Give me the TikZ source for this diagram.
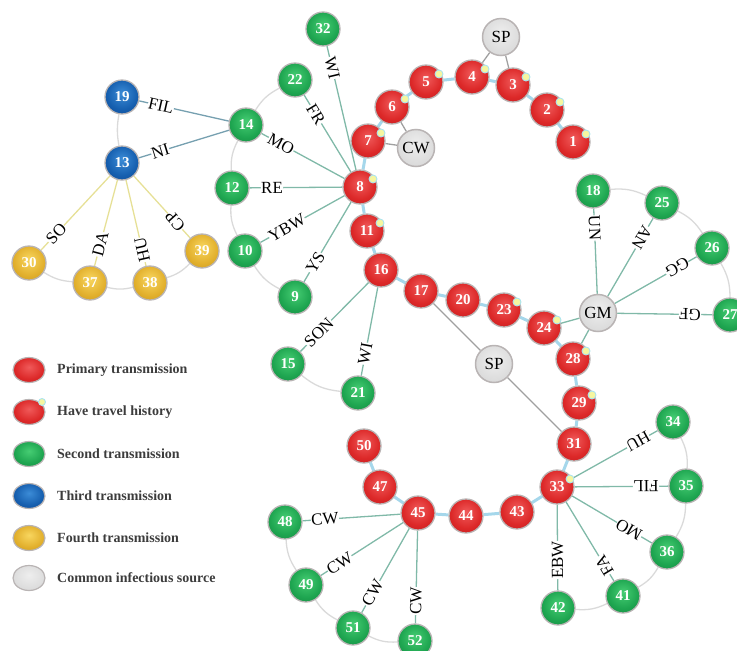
\documentclass[tikz,border=0pt]{standalone}
\usepackage{fontspec}
\setmainfont{Liberation Serif}
\usetikzlibrary{calc,backgrounds,shapes.geometric}

\definecolor{Rl}{RGB}{240,90,90}\definecolor{Rm}{RGB}{220,40,40}\definecolor{Rd}{RGB}{178,24,30}
\definecolor{Gl}{RGB}{70,205,115}\definecolor{Gm}{RGB}{30,165,80}\definecolor{Gd}{RGB}{18,122,58}
\definecolor{Bl}{RGB}{60,140,215}\definecolor{Bm}{RGB}{22,95,175}\definecolor{Bd}{RGB}{14,62,132}
\definecolor{Yl}{RGB}{248,214,95}\definecolor{Ym}{RGB}{226,176,45}\definecolor{Yd}{RGB}{186,140,25}
\definecolor{Sl}{RGB}{238,238,238}\definecolor{Sm}{RGB}{220,220,220}\definecolor{Sd}{RGB}{202,202,202}
\definecolor{ringc}{RGB}{185,180,180}
\definecolor{trvc}{RGB}{246,246,160}
\definecolor{trvring}{RGB}{170,228,240}
\definecolor{chainc}{RGB}{165,215,235}
\definecolor{tealc}{RGB}{128,185,168}
\definecolor{bluec}{RGB}{118,160,176}
\definecolor{yelc}{RGB}{230,224,150}
\definecolor{arcc}{RGB}{218,218,218}
\definecolor{srcc}{RGB}{160,160,160}
\definecolor{lgc}{RGB}{60,60,60}

\pgfdeclareradialshading{ballR}{\pgfpoint{0bp}{6bp}}{color(0bp)=(Rl); color(22bp)=(Rm); color(44bp)=(Rd); color(60bp)=(Rd)}
\pgfdeclareradialshading{ballG}{\pgfpoint{0bp}{6bp}}{color(0bp)=(Gl); color(22bp)=(Gm); color(44bp)=(Gd); color(60bp)=(Gd)}
\pgfdeclareradialshading{ballB}{\pgfpoint{0bp}{6bp}}{color(0bp)=(Bl); color(22bp)=(Bm); color(44bp)=(Bd); color(60bp)=(Bd)}
\pgfdeclareradialshading{ballY}{\pgfpoint{0bp}{6bp}}{color(0bp)=(Yl); color(22bp)=(Ym); color(44bp)=(Yd); color(60bp)=(Yd)}
\pgfdeclareradialshading{ballS}{\pgfpoint{0bp}{6bp}}{color(0bp)=(Sl); color(25bp)=(Sm); color(46bp)=(Sd); color(60bp)=(Sd)}

\tikzset{
  nd/.style={circle, minimum size=34pt, inner sep=0pt, draw=ringc, line width=1.3pt,
    text=white, font=\fontsize{15}{15}\selectfont\bfseries},
  rn/.style={nd, shading=ballR},
  gn/.style={nd, shading=ballG},
  bn/.style={nd, shading=ballB},
  yn/.style={nd, shading=ballY},
  sn/.style={circle, minimum size=37pt, inner sep=0pt, draw=ringc, line width=1.5pt,
    shading=ballS, text=black, font=\fontsize{17}{17}\selectfont},
  trv/.style={circle, minimum size=8pt, inner sep=0pt, fill=trvc, draw=trvring, line width=0.9pt},
  chain/.style={draw=chainc, line width=3pt},
  ted/.style={draw=tealc, line width=1.3pt},
  bed/.style={draw=bluec, line width=1.3pt},
  yed/.style={draw=yelc, line width=1.3pt},
  arced/.style={draw=arcc, line width=1.3pt},
  sed/.style={draw=srcc, line width=1.3pt},
  elabel/.style={font=\fontsize{17}{17}\selectfont, text=black, inner sep=0.3pt, fill=white},
  lgball/.style={ellipse, minimum width=32pt, minimum height=25pt, inner sep=0pt, draw=ringc, line width=1.2pt},
  lgtext/.style={anchor=west, inner sep=0pt, font=\fontsize{14}{14}\selectfont\bfseries, text=lgc},
}

% label on edge: [distance]{outer}{hub}{text}
\newcommand{\elab}[4][40]{%
  \path let \p1=($(#3)-(#2)$), \n1={atan2(\y1,\x1)} in
    node[elabel, rotate=\n1] (L#2#3) at ($(#2)!#1pt!(#3)$) {#4};}

\begin{document}
\begin{tikzpicture}[x=1pt,y=1pt]
\useasboundingbox (0,0) rectangle (737,-651);
\clip (0,0) rectangle (737,-651);

% ---------- nodes ----------
\node[rn] (n1) at (573,-142) {1};
\node[rn] (n2) at (547,-110) {2};
\node[rn] (n3) at (513,-85) {3};
\node[rn] (n4) at (472,-77) {4};
\node[rn] (n5) at (426,-82) {5};
\node[rn] (n6) at (392,-107) {6};
\node[rn] (n7) at (368,-141) {7};
\node[rn] (n8) at (360,-187) {8};
\node[rn] (n11) at (367,-231) {11};
\node[rn] (n16) at (381,-270) {16};
\node[rn] (n17) at (421,-291) {17};
\node[rn] (n20) at (463,-300) {20};
\node[rn] (n23) at (504,-310) {23};
\node[rn] (n24) at (544,-328) {24};
\node[rn] (n28) at (573,-359) {28};
\node[rn] (n29) at (579,-403) {29};
\node[rn] (n31) at (574,-444) {31};
\node[rn] (n33) at (557,-487) {33};
\node[rn] (n43) at (517,-512) {43};
\node[rn] (n44) at (466,-516) {44};
\node[rn] (n45) at (418,-513) {45};
\node[rn] (n47) at (380,-487) {47};
\node[rn] (n50) at (364,-446) {50};

\node[gn] (n9) at (295,-297) {9};
\node[gn] (n10) at (245,-251) {10};
\node[gn] (n12) at (232,-188) {12};
\node[gn] (n14) at (246,-125) {14};
\node[gn] (n15) at (288,-364) {15};
\node[gn] (n18) at (593,-191) {18};
\node[gn] (n21) at (358,-393) {21};
\node[gn] (n22) at (295,-80) {22};
\node[gn] (n25) at (662,-203) {25};
\node[gn] (n26) at (712,-248) {26};
\node[gn] (n27) at (730,-315) {27};
\node[gn] (n32) at (323,-29) {32};
\node[gn] (n34) at (673,-422) {34};
\node[gn] (n35) at (686,-486) {35};
\node[gn] (n36) at (667,-552) {36};
\node[gn] (n41) at (623,-596) {41};
\node[gn] (n42) at (558,-608) {42};
\node[gn] (n48) at (285,-522) {48};
\node[gn] (n49) at (306,-585) {49};
\node[gn] (n51) at (353,-628) {51};
\node[gn] (n52) at (415,-641) {52};

\node[bn] (n19) at (122,-97) {19};
\node[bn] (n13) at (122,-163) {13};

\node[yn] (n30) at (29,-263) {30};
\node[yn] (n37) at (90,-283) {37};
\node[yn] (n38) at (150,-283) {38};
\node[yn] (n39) at (202,-251) {39};

\node[sn] (spA) at (501,-37) {SP};
\node[sn] (cw) at (416,-148) {CW};
\node[sn] (gm) at (598,-313) {GM};
\node[sn] (spB) at (494,-364) {SP};

% travel-history markers
\foreach \k in {1,2,3,4,5,6,7,8,11,23,24,28,29,33}{
  \node[trv] (t\k) at ($(n\k)+(13,8)$) {};
}

% ---------- edges ----------
\begin{scope}[on background layer]
  % primary chain
  \draw[chain] (n1) -- (n2) -- (n3) -- (n4) -- (n5) -- (n6) -- (n7) -- (n8) -- (n11) -- (n16)
     -- (n17) -- (n20) -- (n23) -- (n24) -- (n28) -- (n29) -- (n31) -- (n33) -- (n43) -- (n44)
     -- (n45) -- (n47) -- (n50);
  % common sources
  \draw[sed] (spA) -- (n4);
  \draw[sed] (spA) -- (n3);
  \draw[sed] (cw) -- (n7);
  \draw[sed] (cw) -- (n6);
  \draw[sed] (n17) -- (spB);
  \draw[sed] (spB) -- (n31);
  \draw[ted] (gm) -- (n24);
  \draw[ted] (gm) -- (n28);
  % hub 8
  \foreach \o in {32,22,14,12,10,9}{\draw[ted] (n8) -- (n\o);}
  % hub 16
  \foreach \o in {15,21}{\draw[ted] (n16) -- (n\o);}
  % hub GM
  \foreach \o in {18,25,26,27}{\draw[ted] (gm) -- (n\o);}
  % hub 33
  \foreach \o in {34,35,36,41,42}{\draw[ted] (n33) -- (n\o);}
  % hub 45
  \foreach \o in {48,49,51,52}{\draw[ted] (n45) -- (n\o);}
  % third / fourth
  \draw[bed] (n19) -- (n14);
  \draw[bed] (n13) -- (n14);
  \foreach \o in {30,37,38,39}{\draw[yed] (n13) -- (n\o);}
  % arcs
  \draw[arced] (n22) to[bend right=15] (n14);
  \draw[arced] (n14) to[bend right=15] (n12);
  \draw[arced] (n12) to[bend right=15] (n10);
  \draw[arced] (n10) to[bend right=15] (n9);
  \draw[arced] (n19) to[bend right=10] (n13);
  \draw[arced] (n30) to[bend right=14] (n37);
  \draw[arced] (n37) to[bend right=14] (n38);
  \draw[arced] (n38) to[bend right=14] (n39);
  \draw[arced] (n15) to[bend right=17] (n21);
  \draw[arced] (n18) to[bend left=15] (n25);
  \draw[arced] (n25) to[bend left=15] (n26);
  \draw[arced] (n26) to[bend left=15] (n27);
  \draw[arced] (n34) to[bend left=15] (n35);
  \draw[arced] (n35) to[bend left=15] (n36);
  \draw[arced] (n36) to[bend left=15] (n41);
  \draw[arced] (n41) to[bend left=15] (n42);
  \draw[arced] (n48) to[bend right=15] (n49);
  \draw[arced] (n49) to[bend right=15] (n51);
  \draw[arced] (n51) to[bend right=15] (n52);
\end{scope}

% ---------- edge labels ----------
\elab{n32}{n8}{WI}
\elab{n22}{n8}{FR}
\elab{n14}{n8}{MO}
\elab{n12}{n8}{RE}
\elab[48]{n10}{n8}{YBW}
\elab{n9}{n8}{YS}
\elab{n19}{n14}{FIL}
\elab{n13}{n14}{NI}
\elab{n30}{n13}{SO}
\elab{n37}{n13}{DA}
\elab[34]{n38}{n13}{HU}
\elab{n39}{n13}{CP}
\elab[44]{n15}{n16}{SON}
\elab{n21}{n16}{WI}
\elab[37]{n18}{gm}{UN}
\elab{n25}{gm}{AN}
\elab{n26}{gm}{GG}
\elab{n27}{gm}{GF}
\elab{n34}{n33}{HU}
\elab{n35}{n33}{FIL}
\elab[44]{n36}{n33}{MO}
\elab[36]{n41}{n33}{FA}
\elab[48]{n42}{n33}{EBW}
\elab{n48}{n45}{CW}
\elab{n49}{n45}{CW}
\elab{n51}{n45}{CW}
\elab{n52}{n45}{CW}

% ---------- legend ----------
\node[lgball, shading=ballR] (lg1) at (29,-370) {};
\node[lgball, shading=ballR] (lg2) at (29,-412) {};
\node[trv, minimum size=7pt] (lgt) at (42,-402) {};
\node[lgball, shading=ballG] (lg3) at (29,-454) {};
\node[lgball, shading=ballB] (lg4) at (29,-496) {};
\node[lgball, shading=ballY] (lg5) at (29,-538) {};
\node[lgball, shading=ballS] (lg6) at (29,-578) {};
\node[lgtext] (lt1) at (57,-370) {Primary transmission};
\node[lgtext] (lt2) at (57,-412) {Have travel history};
\node[lgtext] (lt3) at (57,-454) {Second transmission};
\node[lgtext] (lt4) at (57,-496) {Third transmission};
\node[lgtext] (lt5) at (57,-538) {Fourth transmission};
\node[lgtext] (lt6) at (57,-578) {Common infectious source};
\end{tikzpicture}
\end{document}
